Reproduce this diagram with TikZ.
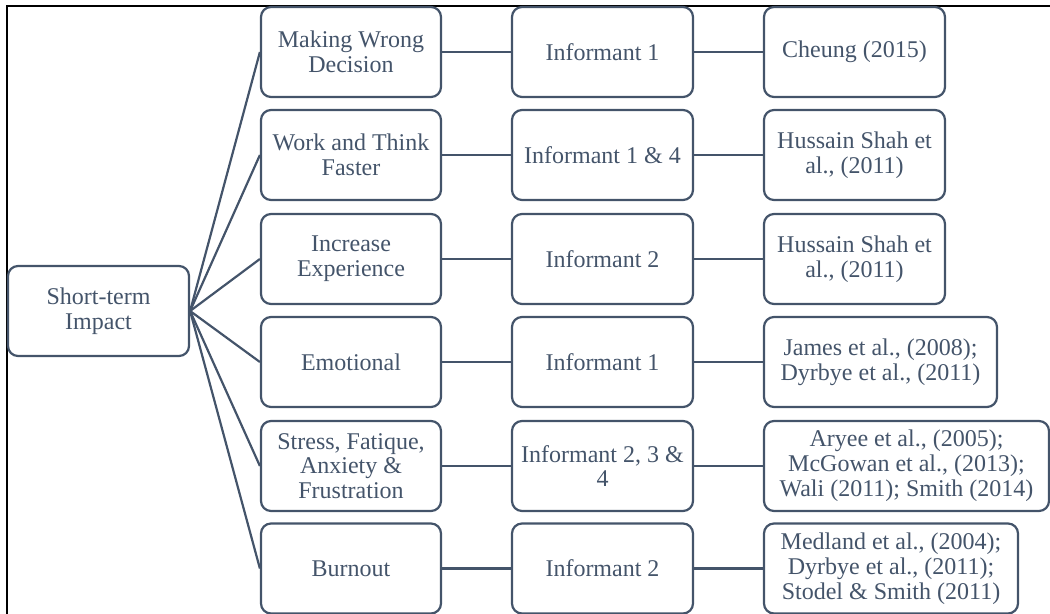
\documentclass[tikz,border=0pt]{standalone}
\usepackage{fontspec}
\newfontfamily\tnr{LiberationSerif}[Extension=.ttf, UprightFont=*-Regular]
\definecolor{ink}{HTML}{44546A}
\begin{document}
\begin{tikzpicture}[x=0.75pt,y=-0.75pt,
  box/.style={draw=ink, line width=1.65pt, rounded corners=7.5pt, align=center, text=ink,
    font=\tnr\fontsize{18}{18.6}\selectfont, inner sep=0pt, minimum height=67.5pt},
  w1/.style={minimum width=135.75pt},
  link/.style={draw=ink, line width=1.65pt}]
\useasboundingbox (0,0) rectangle (1050,614);
\draw[line width=1.5pt, black] (7,616) -- (7,6) -- (1052,6);
% root
\node[box, w1] (root) at (98.5,311) {Short-term\\Impact};
% column 1
\node[box, minimum width=135pt] (a1) at (351,52) {Making Wrong\\Decision};
\node[box, minimum width=135pt] (a2) at (351,155) {Work and Think\\Faster};
\node[box, minimum width=135pt] (a3) at (351,259) {Increase\\Experience};
\node[box, minimum width=135pt] (a4) at (351,362) {Emotional};
\node[box, minimum width=135pt] (a5) at (351,466) {Stress, Fatique,\\Anxiety \&\\Frustration};
\node[box, minimum width=135pt] (a6) at (351,568.5) {Burnout};
% column 2
\node[box, w1] (b1) at (602.5,52) {Informant 1};
\node[box, w1] (b2) at (602.5,155) {Informant 1 \& 4};
\node[box, w1] (b3) at (602.5,259) {Informant 2};
\node[box, w1] (b4) at (602.5,362) {Informant 1};
\node[box, w1] (b5) at (602.5,466) {Informant 2, 3 \&\\4};
\node[box, w1] (b6) at (602.5,568.5) {Informant 2};
% column 3
\node[box, w1] (c1) at (854.5,52) {Cheung (2015)};
\node[box, w1] (c2) at (854.5,155) {Hussain Shah et\\al., (2011)};
\node[box, w1] (c3) at (854.5,259) {Hussain Shah et\\al., (2011)};
\node[box, minimum width=174.75pt] (c4) at (880.5,362) {James et al., (2008);\\Dyrbye et al., (2011)};
\node[box, minimum width=213.75pt] (c5) at (906.5,466) {Aryee et al., (2005);\\McGowan et al., (2013);\\Wali (2011); Smith (2014)};
\node[box, minimum width=190.5pt] (c6) at (891,568.5) {Medland et al., (2004);\\Dyrbye et al., (2011);\\Stodel \& Smith (2011)};
% connectors
\foreach \i in {1,...,6} {
  \draw[link] (root.east) -- (a\i.west);
  \draw[link] (a\i.east) -- (b\i.west);
  \draw[link] (b\i.east) -- (c\i.west);
}
\end{tikzpicture}
\end{document}
